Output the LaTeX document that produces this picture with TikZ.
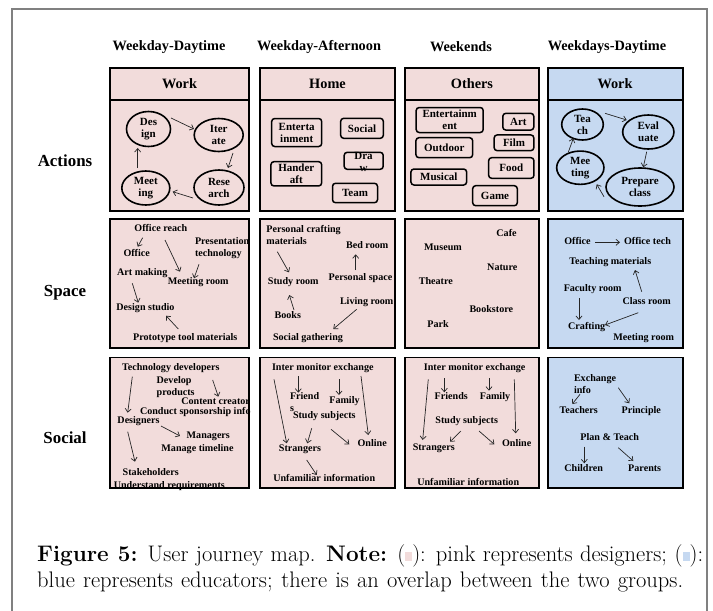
\documentclass[tikz,border=0pt]{standalone}
\usepackage{fontspec}
\newfontfamily\tnr{Liberation Serif}
\usetikzlibrary{arrows.meta,shapes.geometric,calc}
\definecolor{pinkc}{HTML}{F2DCDB}
\definecolor{bluec}{HTML}{C6D9F1}
\definecolor{framec}{HTML}{808080}
\newcommand\sqpink{\textcolor{pinkc}{\rule[0.3pt]{7pt}{9pt}}}
\newcommand\sqblue{\textcolor{bluec}{\rule[0.3pt]{7pt}{9pt}}}
\tikzset{
  cell/.style={draw=black,line width=1.6pt},
  colhead/.style={font=\tnr\bfseries\fontsize{14.3}{16}\selectfont, inner sep=0pt},
  rowhead/.style={font=\tnr\bfseries\fontsize{16.9}{19}\selectfont, inner sep=0pt},
  act/.style={font=\tnr\bfseries\fontsize{11}{12}\selectfont, align=center, inner sep=0pt},
  oval/.style={act, ellipse, draw, line width=1.6pt},
  tag/.style={act, draw, rounded corners=3pt, line width=1.5pt},
  txt/.style={font=\tnr\bfseries\fontsize{10.1}{12}\selectfont, inner sep=0.5pt, text height=7pt, text depth=2.2pt},
  txtl/.style={font=\tnr\bfseries\fontsize{10.1}{12}\selectfont, inner sep=0.5pt, align=left, anchor=west},
  arr/.style={-{Straight Barb[length=3.5pt,width=6pt]}, line width=0.7pt, black!85},
  captxt/.style={anchor=base west, inner sep=0pt, font=\fontsize{22.5}{26}\selectfont},
}
\begin{document}
\begin{tikzpicture}[x=1pt,y=-1pt]
\useasboundingbox (0,0) rectangle (713,611);
\fill[white] (0,0) rectangle (713,611);
% outer frame
\draw[framec, line width=1.2pt] (12,611) -- (12,9) -- (707,9) -- (707,611);

% cell fills
\foreach \l/\r/\c in {110/249/pinkc,260/395/pinkc,405/539/pinkc,548/683/bluec}{
  \foreach \t/\b in {68/211,219/348,357.5/488}{
    \fill[\c] (\l,\t) rectangle (\r,\b);
  }
}

% column and row headings
\node[colhead] (h1) at (169,47) {Weekday-Daytime};
\node[colhead] (h2) at (319,47) {Weekday-Afternoon};
\node[colhead] (h3) at (461,47) {Weekends};
\node[colhead] (h4) at (607,47) {Weekdays-Daytime};
\node[rowhead] (ra) at (65,161) {Actions};
\node[rowhead] (rs) at (65,293) {Space};
\node[rowhead] (rc) at (65,438) {Social};

\node[colhead] (w1) at (179.5,84) {Work};
\node[colhead] (w2) at (327.5,84) {Home};
\node[colhead] (w3) at (472,84) {Others};
\node[colhead] (w4) at (615,84) {Work};

% ---------- Actions ----------
\node[oval, minimum width=44, minimum height=35] (d1) at (148.5,129) {Des\\ign};
\node[oval, minimum width=49, minimum height=33] (i1) at (218.7,135) {Iter\\ate};
\node[oval, minimum width=50, minimum height=35] (r1) at (219,187.5) {Rese\\arch};
\node[oval, minimum width=48, minimum height=34] (m1) at (145.8,188) {Meet\\ing};
\draw[arr] ($(d1)+(22.5,-11)$) -- ($(i1)+(-24.7,-6)$);
\draw[arr] ($(i1)+(14.3,18)$) -- ($(r1)+(9,-19.5)$);
\draw[arr] ($(r1)+(-26,10.5)$) -- ($(m1)+(26.9,3.7)$);
\draw[arr] ($(m1)+(-8.1,-20)$) -- ($(d1)+(-10.8,19)$);

\node[tag, minimum width=50, minimum height=28] (ent2) at (296.7,132.5) {Enterta\\inment};
\node[tag, minimum width=42.6, minimum height=20] (soc2) at (362,128.3) {Social};
\node[tag, minimum width=39, minimum height=17] (dra2) at (363.7,160.8) {};
\node[act] (dra2t) at (363.5,162) {Dra\\w};
\node[tag, minimum width=50.7, minimum height=24.3] (han2) at (296.3,173.8) {Hander\\aft};
\node[tag, minimum width=45, minimum height=19.4] (team2) at (355,193) {Team};

\node[tag, minimum width=67, minimum height=25] (ent3) at (449.7,120) {Entertainm\\ent};
\node[tag, minimum width=31, minimum height=16.7] (art3) at (518.3,121.7) {Art};
\node[tag, minimum width=39.7, minimum height=15.7] (film3) at (514,142.8) {Film};
\node[tag, minimum width=56.7, minimum height=20] (out3) at (444.3,147.7) {Outdoor};
\node[tag, minimum width=45.3, minimum height=20.6] (food3) at (511.3,168) {Food};
\node[tag, minimum width=55.7, minimum height=16] (mus3) at (438.8,177) {Musical};
\node[tag, minimum width=44.6, minimum height=20] (game3) at (495,195.7) {Game};

\node[oval, minimum width=41.6, minimum height=31] (t4) at (582.5,124.5) {Tea\\ch};
\node[oval, minimum width=51.3, minimum height=34] (e4) at (648.3,132) {Eval\\uate};
\node[oval, minimum width=68, minimum height=38] (p4) at (640,187) {Prepare\\class};
\node[oval, minimum width=47.3, minimum height=33.3] (m4) at (580.3,167.7) {Mee\\ting};
\draw[arr] ($(t4)+(22.5,-11.2)$) -- ($(e4)+(-21.6,-12)$);
\draw[arr] ($(e4)+(-1.6,19.7)$) -- ($(p4)+(3.3,-19.7)$);
\draw[arr] ($(p4)+(-36,9.7)$) -- ($(m4)+(16.4,16.6)$);
\draw[arr] ($(m4)+(-12,-15.4)$) -- ($(t4)+(-9.2,13.8)$);

% ---------- Space ----------
\node[txt] (s1a) at (160.8,229) {Office reach};
\node[txt] (s1b) at (136.7,254.3) {Office};
\node[txtl] (s1c) at (194.3,248.3) {Presentation\\technology};
\node[txt] (s1d) at (142.2,273.3) {Art making};
\node[txt] (s1e) at (198.3,281.7) {Meeting room};
\node[txt] (s1f) at (145.5,307.7) {Design studio};
\node[txt] (s1g) at (185.3,337.7) {Prototype tool materials};
\draw[arr] ($(s1a)+(-18.1,8.7)$) -- ($(s1b)+(1,-7.6)$);
\draw[arr] ($(s1a)+(4.2,11)$) -- ($(s1e)+(-18.3,-10)$);
\draw[arr] ($(s1c.west)+(4.7,16)$) -- ($(s1e)+(-4.3,-3.4)$);
\draw[arr] ($(s1d)+(-9.9,10)$) -- ($(s1f)+(-7.2,-5)$);
\draw[arr] ($(s1g)+(-7,-8.7)$) -- ($(s1f)+(20.5,8)$);

\node[txtl] (s2a) at (265.7,235.3) {Personal crafting\\materials};
\node[txt] (s2b) at (367.2,246) {Bed room};
\node[txt] (s2c) at (293.3,281.7) {Study room};
\node[txt] (s2d) at (360.5,278.3) {Personal space};
\node[txt] (s2e) at (366.7,301.7) {Living room};
\node[txt] (s2f) at (287.8,316) {Books};
\node[txt] (s2g) at (308,337.7) {Social gathering};
\draw[arr] ($(s2a.west)+(11.6,16.4)$) -- ($(s2c)+(-4.3,-9.4)$);
\draw[arr] ($(s2d)+(-4.8,-8.3)$) -- ($(s2b)+(-11.5,8.3)$);
\draw[arr] ($(s2f)+(6.2,-6)$) -- ($(s2c)+(-4,13.3)$);
\draw[arr] ($(s2e)+(-10,7.6)$) -- ($(s2g)+(25.3,-8.7)$);

\node[txt] (s3a) at (506.5,234.3) {Cafe};
\node[txt] (s3b) at (443,248.3) {Museum};
\node[txt] (s3c) at (502.3,268.3) {Nature};
\node[txt] (s3d) at (435.8,281.7) {Theatre};
\node[txt] (s3e) at (491.3,310) {Bookstore};
\node[txt] (s3f) at (438,325) {Park};

\node[txt] (s4a) at (577.5,242.3) {Office};
\node[txt] (s4b) at (647.5,242.3) {Office tech};
\node[txt] (s4c) at (610.3,262.3) {Teaching materials};
\node[txt] (s4d) at (592.7,289) {Faculty room};
\node[txt] (s4e) at (646.7,301.7) {Class room};
\node[txt] (s4f) at (586.7,326.7) {Crafting};
\node[txt] (s4g) at (643.7,337.7) {Meeting room};
\draw[arr] ($(s4a)+(17.5,0)$) -- ($(s4b)+(-27.5,0)$);
\draw[arr] ($(s4d)+(-13.7,9.3)$) -- ($(s4f)+(-7.7,-6.7)$);
\draw[arr] ($(s4e)+(-5,-10)$) -- ($(s4c)+(24.7,7.7)$);
\draw[arr] ($(s4e)+(-8.4,11)$) -- ($(s4f)+(18.3,-1.7)$);

% ---------- Social ----------
\node[txt] (o1a) at (170.8,368.3) {Technology developers};
\node[txtl] (o1b) at (156,386.7) {Develop\\products};
\node[txt, anchor=west] (o1c) at (180.7,401.7) {Content creator};
\node[txt, anchor=west] (o1d) at (139.3,412.3) {Conduct sponsorship info};
\node[txt] (o1e) at (138.5,421) {Designers};
\node[txt] (o1f) at (208.3,436) {Managers};
\node[txt] (o1g) at (197.5,449) {Manage timeline};
\node[txt] (o1h) at (150.8,472.7) {Stakeholders};
\node[txt] (o1i) at (169.3,486) {Understand requirements};
\draw[arr] ($(o1a)+(-38.5,8.4)$) -- ($(o1e)+(-10.8,-8.3)$);
\draw[arr] ($(o1b.west)+(56.7,-6.7)$) -- ($(o1c.west)+(37.6,-5)$);
\draw[arr] ($(o1e)+(22.5,5)$) -- ($(o1f)+(-28.3,0)$);
\draw[arr] ($(o1e)+(-10.8,10.7)$) -- ($(o1h)+(-15.8,-11)$);

\node[txt] (o2a) at (322.8,368.3) {Inter monitor exchange};
\node[txtl] (o2b) at (289.3,402.5) {Friend\\s};
\node[txt] (o2c) at (344.5,400.7) {Family};
\node[txt] (o2d) at (324.3,416) {Study subjects};
\node[txt] (o2e) at (372.2,444.3) {Online};
\node[txt] (o2f) at (300,449.3) {Strangers};
\node[txt] (o2g) at (324.2,479) {Unfamiliar information};
\draw[arr] ($(o2a)+(-24.5,7.7)$) -- ($(o2b.west)+(9,-9.8)$);
\draw[arr] ($(o2a)+(16.2,11)$) -- ($(o2c)+(-5.5,-5.7)$);
\draw[arr] ($(o2a)+(-48.8,11)$) -- ($(o2f)+(-13.3,-6)$);
\draw[arr] ($(o2a)+(38.2,7.7)$) -- ($(o2e)+(-3.9,-9.3)$);
\draw[arr] ($(o2d)+(-12.6,12.3)$) -- ($(o2f)+(7.3,-6)$);
\draw[arr] ($(o2d)+(6.7,13.3)$) -- ($(o2e)+(-22.9,0)$);
\draw[arr] ($(o2f)+(6.7,10.7)$) -- ($(o2g)+(-7.5,-4)$);

\node[txt] (o3a) at (474.7,368.3) {Inter monitor exchange};
\node[txt] (o3b) at (451.3,396.7) {Friends};
\node[txt] (o3c) at (495,396.7) {Family};
\node[txt] (o3d) at (466.7,421) {Study subjects};
\node[txt] (o3e) at (433.8,447.7) {Strangers};
\node[txt] (o3f) at (516.7,444.3) {Online};
\node[txt] (o3g) at (468.2,483.3) {Unfamiliar information};
\draw[arr] ($(o3a)+(-30.4,10)$) -- ($(o3b)+(-7,-4.4)$);
\draw[arr] ($(o3a)+(14.3,10)$) -- ($(o3c)+(-6,-6)$);
\draw[arr] ($(o3a)+(-46.4,11)$) -- ($(o3e)+(-11.1,-7.7)$);
\draw[arr] ($(o3a)+(39.6,11)$) -- ($(o3f)+(-1,-11)$);
\draw[arr] ($(o3d)+(-5.7,10)$) -- ($(o3e)+(16.2,-6)$);
\draw[arr] ($(o3d)+(12.3,10)$) -- ($(o3f)+(-22.4,0)$);

\node[txtl] (o4a) at (573.3,384.5) {Exchange\\info};
\node[txt] (o4b) at (578.7,411) {Teachers};
\node[txt] (o4c) at (641.3,411) {Principle};
\node[txt] (o4d) at (609.7,437.7) {Plan \& Teach};
\node[txt] (o4e) at (583.7,469) {Children};
\node[txt] (o4f) at (644.7,469) {Parents};
\draw[arr] ($(o4a.west)+(6.7,9.8)$) -- ($(o4b)+(-6.4,-7)$);
\draw[arr] ($(o4a.west)+(45,3.2)$) -- ($(o4c)+(-12,-7.7)$);
\draw[arr] ($(o4d)+(-25.4,9)$) -- ($(o4e)+(0.6,-5.7)$);
\draw[arr] ($(o4d)+(8.6,10)$) -- ($(o4f)+(-11.4,-8)$);

% cell borders on top
\foreach \l/\r in {110/249,260/395,405/539,548/683}{
  \foreach \t/\b in {68/211,219/348,357.5/488}{
    \draw[cell] (\l,\t) rectangle (\r,\b);
  }
  \draw[cell] (\l,100) -- (\r,100);
}

% caption
\node[captxt] (cap1) at (37,561)
  {\makebox[666pt][s]{\textbf{Figure 5:} User journey map. \textbf{Note:} (\sqpink): pink represents designers; (\sqblue):}};
\node[captxt] (cap2) at (37,587)
  {\makebox[646pt][s]{blue represents educators; there is an overlap between the two groups.}};
\end{tikzpicture}
\end{document}
